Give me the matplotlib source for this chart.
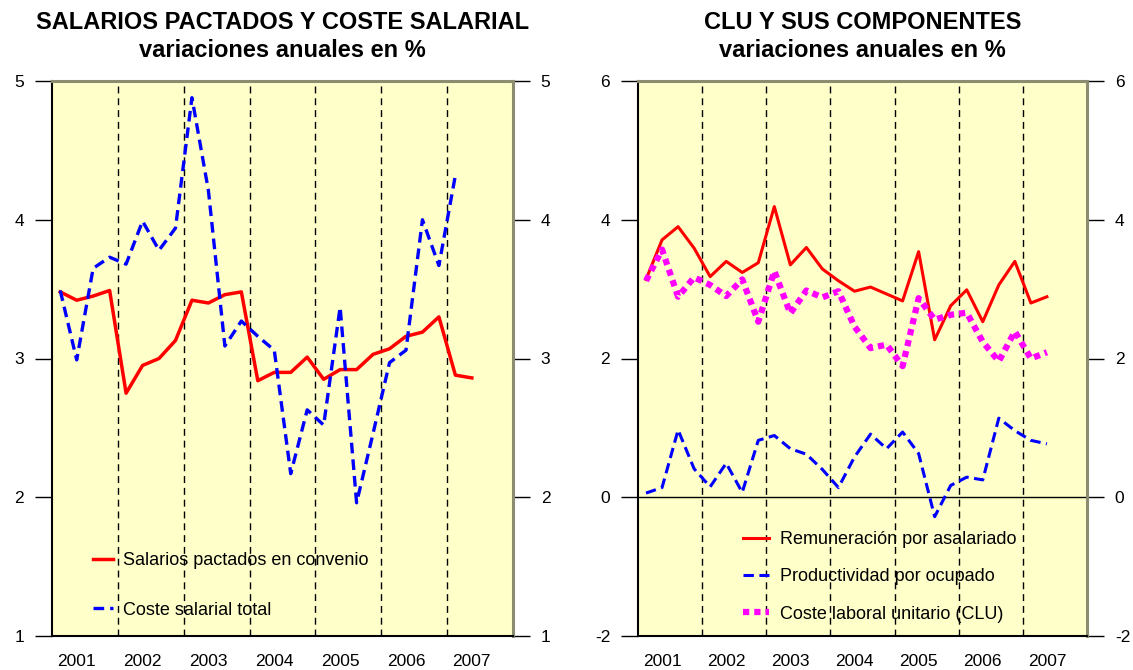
import numpy as np
import matplotlib
matplotlib.use("Agg")
import matplotlib.pyplot as plt

plt.rcParams["font.family"] = ["Liberation Sans", "DejaVu Sans"]

# ----------------------------------------------------------------------------
# Data: quarterly series, 2001 Q1 .. 2007 Q2 (annual % change)
# ----------------------------------------------------------------------------
years = ["2001", "2002", "2003", "2004", "2005", "2006", "2007"]

# left panel
salarios_convenio = [3.48, 3.42, 3.45, 3.49, 2.75, 2.95, 3.00, 3.13, 3.42, 3.40,
                     3.46, 3.48, 2.84, 2.90, 2.90, 3.01, 2.85, 2.92, 2.92, 3.03,
                     3.07, 3.16, 3.19, 3.30, 2.88, 2.86]
coste_salarial = [3.49, 2.99, 3.65, 3.73, 3.68, 3.99, 3.78, 3.94, 4.88, 4.21,
                  3.09, 3.27, 3.16, 3.06, 2.17, 2.63, 2.52, 3.37, 1.96, 2.46,
                  2.97, 3.06, 4.00, 3.67, 4.32]

# right panel
remuneracion = [3.14, 3.71, 3.90, 3.59, 3.18, 3.40, 3.24, 3.38, 4.19, 3.35,
                3.60, 3.29, 3.12, 2.97, 3.03, 2.93, 2.83, 3.54, 2.27, 2.76,
                2.99, 2.53, 3.06, 3.40, 2.80, 2.89]
productividad = [0.06, 0.14, 0.97, 0.41, 0.15, 0.49, 0.07, 0.82, 0.89, 0.70,
                 0.62, 0.40, 0.14, 0.58, 0.91, 0.70, 0.94, 0.63, -0.28, 0.17,
                 0.29, 0.25, 1.14, 0.96, 0.82, 0.77]
clu = [3.12, 3.57, 2.89, 3.17, 3.06, 2.90, 3.14, 2.53, 3.26, 2.65,
       2.98, 2.88, 2.97, 2.46, 2.15, 2.20, 1.89, 2.87, 2.56, 2.63,
       2.66, 2.24, 1.96, 2.39, 2.00, 2.09]

BG = "#FFFFCA"
FS = 12.5
LEG_FS = 13
TITLE_FS = 17


def style_panel(ax, yticks, ylim):
    ax.set_facecolor(BG)
    ax.set_xlim(-0.5, 27.5)
    ax.set_ylim(*ylim)
    # year separators
    for k in range(1, 7):
        ax.axvline(4 * k - 0.5, color="black", lw=1.0, ls=(0, (5, 3.5)), zorder=1)
    ax.set_xticks([4 * k + 1 for k in range(7)])
    ax.set_xticklabels(years, fontsize=FS)
    ax.tick_params(axis="x", length=0, pad=13)
    ax.set_yticks(yticks)
    ax.set_yticklabels([f"{v:g}" for v in yticks], fontsize=FS)
    ax.tick_params(axis="y", direction="out", length=12, width=1,
                   left=True, right=True, labelleft=True, labelright=True, pad=8)
    for side in ("left", "bottom"):
        ax.spines[side].set_color("black")
        ax.spines[side].set_linewidth(1.5)
    for side in ("right", "top"):
        ax.spines[side].set_color("#8C8C70")
        ax.spines[side].set_linewidth(2.2)


def titles(ax, line1):
    pos = ax.get_position()
    xc = (pos.x0 + pos.x1) / 2
    fig.text(xc, 1 - 29 / 670, line1, ha="center", va="baseline",
             fontsize=TITLE_FS, fontweight="bold")
    fig.text(xc, 1 - 57 / 670, "variaciones anuales en %", ha="center",
             va="baseline", fontsize=TITLE_FS, fontweight="bold")


fig = plt.figure(figsize=(11.33, 6.70), dpi=100)

# --- left panel -------------------------------------------------------------
ax1 = fig.add_axes([52 / 1133, 34 / 670, 461 / 1133, 555 / 670])
style_panel(ax1, [1, 2, 3, 4, 5], (1, 5))
q1 = np.arange(len(salarios_convenio))
q2 = np.arange(len(coste_salarial))
ax1.plot(q1, salarios_convenio, color="#FF0000", lw=2.5, zorder=3,
         label="Salarios pactados en convenio")
ax1.plot(q2, coste_salarial, color="#0000FF", lw=2.4, ls=(0, (3.2, 1.8)), zorder=3,
         label="Coste salarial total")
ax1.legend(loc="upper left", bbox_to_anchor=(0.089, 0.151), frameon=False,
           fontsize=LEG_FS, borderpad=0, borderaxespad=0, handlelength=1.1,
           handletextpad=0.55, labelspacing=1.8)
titles(ax1, "SALARIOS PACTADOS Y COSTE SALARIAL")

# --- right panel ------------------------------------------------------------
ax2 = fig.add_axes([638 / 1133, 34 / 670, 449 / 1133, 555 / 670])
style_panel(ax2, [-2, 0, 2, 4, 6], (-2, 6))
q = np.arange(len(remuneracion))
ax2.axhline(0, color="black", lw=1.0, zorder=2)
ax2.plot(q, remuneracion, color="#FF0000", lw=2.2, zorder=3,
         label="Remuneración por asalariado")
ax2.plot(q, productividad, color="#0000FF", lw=2.2, ls=(0, (3.4, 1.8)), zorder=3,
         label="Productividad por ocupado")
ax2.plot(q, clu, color="#FF00FF", lw=4.5, ls=(0, (1, 0.8)), zorder=3,
         label="Coste laboral unitario (CLU)")
ax2.legend(loc="upper left", bbox_to_anchor=(0.234, 0.189), frameon=False,
           fontsize=LEG_FS, borderpad=0, borderaxespad=0, handlelength=1.45,
           handletextpad=0.6, labelspacing=1.12)
titles(ax2, "CLU Y SUS COMPONENTES")

fig.savefig("out.png", dpi=100, facecolor="white")
